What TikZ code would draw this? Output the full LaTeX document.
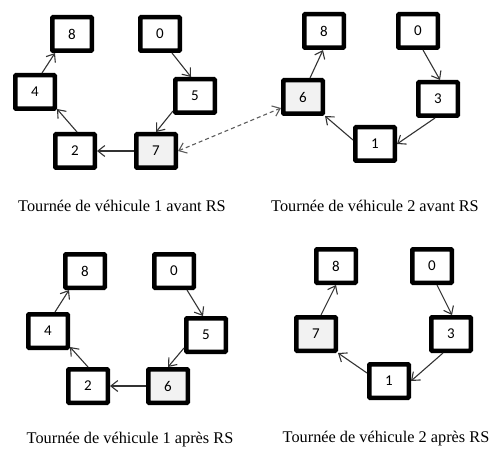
\documentclass[tikz,border=0pt]{standalone}
\usepackage{fontspec}
\setmainfont{Liberation Serif}
\newfontfamily\boxfont{Carlito}
\usetikzlibrary{arrows.meta}
\definecolor{arrowgray}{HTML}{333333}
\definecolor{hilite}{HTML}{F2F2F2}
\tikzset{
  stopbox/.style={draw=black, line width=4.5pt, fill=white, minimum width=39.5pt, minimum height=33.5pt,
    inner sep=0pt, rounded corners=0.8pt, font=\boxfont\fontsize{15}{15}\selectfont},
  graybox/.style={stopbox, fill=hilite},
  link/.style={draw=arrowgray, line width=1.1pt, -{Straight Barb[length=7pt,width=11pt]}},
  swap/.style={draw=arrowgray!80, line width=1.1pt, dashed, dash pattern=on 4pt off 3pt,
    {Straight Barb[length=7pt,width=11pt]}-{Straight Barb[length=7pt,width=11pt]}},
  caption/.style={font=\fontsize{16.3}{17}\selectfont, inner sep=0pt}
}
\begin{document}
\begin{tikzpicture}[x=1pt,y=-1pt]
\useasboundingbox (0,0) rectangle (494,454);
% Panel 1
\node[stopbox] (a8) at (72,34) {8};
\node[stopbox] (a0) at (160,34) {0};
\node[stopbox] (a4) at (35,92) {4};
\node[stopbox] (a5) at (195,96) {5};
\node[stopbox] (a2) at (75,151) {2};
\node[graybox] (a7) at (156,151) {7};
\node[caption] (capa) at (122,206) {Tournée de véhicule 1 avant RS};
\draw[link] ([xshift=12pt]a0.south) -- ([xshift=-4pt]a5.north);
\draw[link] ([yshift=4pt]a5.south west) -- (a7.north);
\draw[link] (a7.west) -- (a2.east);
\draw[link] ([xshift=2pt]a2.north) -- ([yshift=2pt]a4.south east);
\draw[link] ([xshift=7pt]a4.north) -- ([xshift=-17pt]a8.south);
% Panel 2
\node[stopbox] (b8) at (324,31) {8};
\node[stopbox] (b0) at (418,31) {0};
\node[graybox] (b6) at (303,97) {6};
\node[stopbox] (b3) at (438,99) {3};
\node[stopbox] (b1) at (375,144) {1};
\node[caption] (capb) at (375,206) {Tournée de véhicule 2 avant RS};
\draw[link] ([xshift=5pt]b0.south) -- ([xshift=2pt]b3.north);
\draw[link] ([xshift=-3pt]b3.south) -- (b1.east);
\draw[link] ([yshift=4pt]b1.west) -- (b6.south east);
\draw[link] ([xshift=7pt]b6.north) -- ([xshift=-1pt]b8.south);
\draw[swap] (a7.east) -- ([yshift=-11pt]b6.west);
% Panel 3
\node[stopbox] (c8) at (85,271) {8};
\node[stopbox] (c0) at (174,271) {0};
\node[stopbox] (c4) at (48,331) {4};
\node[stopbox] (c5) at (206,335) {5};
\node[stopbox] (c2) at (88,386) {2};
\node[graybox] (c6) at (168,386) {6};
\node[caption] (capc) at (130,440) {Tournée de véhicule 1 après RS};
\draw[link] ([xshift=13pt]c0.south) -- ([xshift=-3pt]c5.north);
\draw[link] ([yshift=6pt]c5.south west) -- (c6.north);
\draw[link] (c6.west) -- (c2.east);
\draw[link] (c2.north) -- ([yshift=3pt]c4.south east);
\draw[link] ([xshift=7pt]c4.north) -- ([xshift=-16pt]c8.south);
% Panel 4
\node[stopbox] (d8) at (336,266) {8};
\node[stopbox] (d0) at (432,266) {0};
\node[graybox] (d7) at (316,334) {7};
\node[stopbox] (d3) at (451,334) {3};
\node[stopbox] (d1) at (389,381) {1};
\node[caption] (capd) at (386,439) {Tournée de véhicule 2 après RS};
\draw[link] ([xshift=5pt]d0.south) -- ([xshift=1pt]d3.north);
\draw[link] ([xshift=-8pt]d3.south) -- (d1.east);
\draw[link] ([yshift=8pt]d1.west) -- (d7.south east);
\draw[link] ([xshift=5pt]d7.north) -- (d8.south);
\end{tikzpicture}
\end{document}
